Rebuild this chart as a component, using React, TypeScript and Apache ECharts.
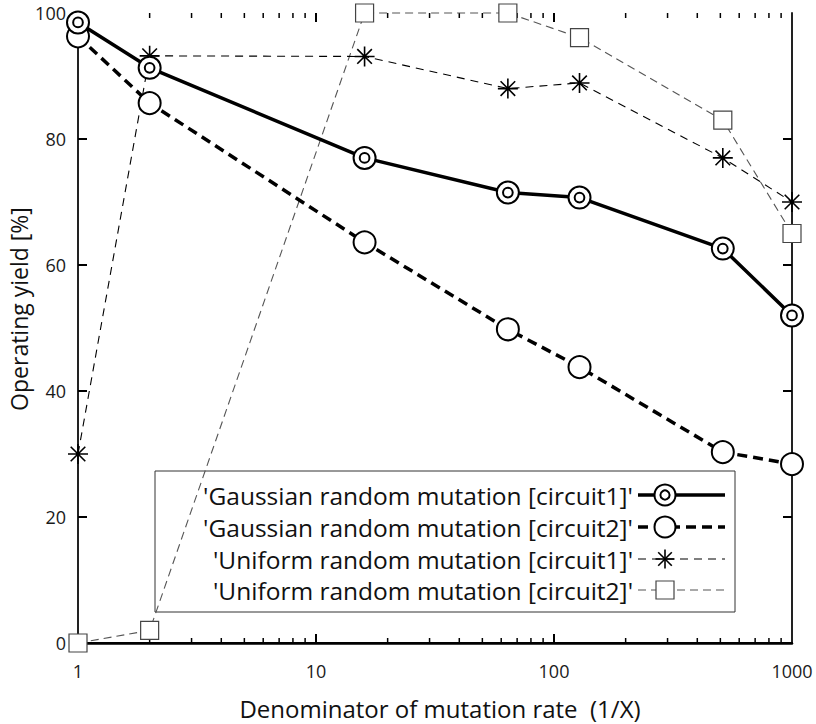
import React, { useEffect, useRef } from "react";
import * as echarts from "echarts";

// Denominator of the mutation rate (1/X) at which each yield was measured
const xValues = [1, 2, 16, 64, 128, 512, 1000];

// Operating yield [%]
const gaussianCircuit1 = [98.5, 91.3, 77.0, 71.5, 70.7, 62.6, 52.0];
const gaussianCircuit2 = [96.3, 85.7, 63.6, 49.8, 43.8, 30.3, 28.4];
const uniformCircuit1 = [30.0, 93.2, 93.1, 88.0, 88.9, 77.0, 70.0];
const uniformCircuit2 = [0.0, 2.0, 100.0, 100.0, 96.1, 83.0, 65.0];

const seriesNames = [
  "'Gaussian random mutation [circuit1]'",
  "'Gaussian random mutation [circuit2]'",
  "'Uniform random mutation [circuit1]'",
  "'Uniform random mutation [circuit2]'",
];

// Tick positions of the frame
const xMajorTicks = [10, 100];
const xMinorTicks = [2, 3, 4, 5, 6, 7, 8, 9, 20, 30, 40, 50, 60, 70, 80, 90, 200, 300, 400, 500, 600, 700, 800, 900];
const yTicks = [20, 40, 60, 80];

const xTitle = "Denominator of mutation rate  (1/X)";
const yTitle = "Operating yield [%]";

const X_MIN = 1;
const X_MAX = 1000;
const Y_MIN = 0;
const Y_MAX = 100;

const FONT = '"Open Sans", "Noto Sans", sans-serif';

const DOUBLE_CIRCLE =
  "path://M0,-10A10,10,0,1,1,0,10A10,10,0,1,1,0,-10ZM0,-4.4A4.4,4.4,0,1,1,0,4.4A4.4,4.4,0,1,1,0,-4.4Z";
const ASTERISK = "path://M-10,0L10,0M0,-10L0,10M-7.3,-7.3L7.3,7.3M-7.3,7.3L7.3,-7.3";

function pairs(ys: number[]) {
  return xValues.map((x, i) => [x, ys[i]]);
}

// Inward ticks on all four sides of the frame, placed through the axes' scales
function tickSeries() {
  const data = [
    ...xMajorTicks.map((v) => [v, Y_MIN, 0]),
    ...xMinorTicks.map((v) => [v, Y_MIN, 1]),
    ...yTicks.map((v) => [X_MIN, v, 2]),
  ];
  return {
    type: "custom",
    name: "frame ticks",
    silent: true,
    clip: false,
    z: 3,
    data,
    renderItem: (_params: any, api: any) => {
      const kind = api.value(2);
      if (kind === 2) {
        const s = { stroke: "#000", lineWidth: 2 };
        const v = api.value(1);
        const l = api.coord([X_MIN, v]);
        const r = api.coord([X_MAX, v]);
        const len = 9;
        return {
          type: "group",
          children: [
            { type: "line", shape: { x1: l[0], y1: l[1], x2: l[0] + len, y2: l[1] }, style: s },
            { type: "line", shape: { x1: r[0], y1: r[1], x2: r[0] - len, y2: r[1] }, style: s },
          ],
        };
      }
      const x = api.value(0);
      const b = api.coord([x, Y_MIN]);
      const t = api.coord([x, Y_MAX]);
      const major = kind === 0;
      const len = major ? 9 : 5;
      const s = { stroke: "#000", lineWidth: major ? 2 : 1.5 };
      return {
        type: "group",
        children: [
          { type: "line", shape: { x1: b[0], y1: b[1], x2: b[0], y2: b[1] - len }, style: s },
          { type: "line", shape: { x1: t[0], y1: t[1], x2: t[0], y2: t[1] + len }, style: s },
        ],
      };
    },
  };
}

function legendGraphic() {
  const left = 155;
  const top = 471;
  const width = 580;
  const height = 141;
  const rowY = [495, 527, 559, 590];
  const textRight = 633;
  const lineX1 = 638;
  const lineX2 = 725;
  const markX = 665;

  const children: any[] = [
    {
      type: "rect",
      shape: { x: left, y: top, width, height },
      style: { fill: "#fff", stroke: "#333", lineWidth: 1 },
    },
  ];

  const lineStyles = [
    { stroke: "#000", lineWidth: 3.5, lineDash: null },
    { stroke: "#000", lineWidth: 3.5, lineDash: [10, 6] },
    { stroke: "#000", lineWidth: 1.1, lineDash: [8, 6] },
    { stroke: "#555", lineWidth: 1.1, lineDash: [8, 5] },
  ];

  seriesNames.forEach((name, i) => {
    const y = rowY[i];
    children.push({
      type: "text",
      x: textRight,
      y,
      style: {
        text: name,
        font: `24.5px ${FONT}`,
        fill: "#111",
        align: "right",
        textAlign: "right",
        verticalAlign: "middle",
        textVerticalAlign: "middle",
      },
    });
    children.push({
      type: "line",
      shape: { x1: lineX1, y1: y, x2: lineX2, y2: y },
      style: lineStyles[i],
    });
    if (i === 0) {
      children.push({
        type: "circle",
        shape: { cx: markX, cy: y, r: 10.5 },
        style: { fill: "#fff", stroke: "#000", lineWidth: 2 },
      });
      children.push({
        type: "circle",
        shape: { cx: markX, cy: y, r: 4.6 },
        style: { fill: "#fff", stroke: "#000", lineWidth: 2 },
      });
    } else if (i === 1) {
      children.push({
        type: "circle",
        shape: { cx: markX, cy: y, r: 10.5 },
        style: { fill: "#fff", stroke: "#000", lineWidth: 2 },
      });
    } else if (i === 2) {
      const r = 9.5;
      const d = 6.8;
      [
        [-r, 0, r, 0],
        [0, -r, 0, r],
        [-d, -d, d, d],
        [-d, d, d, -d],
      ].forEach(([a, b, c, e]) => {
        children.push({
          type: "line",
          shape: { x1: markX + a, y1: y + b, x2: markX + c, y2: y + e },
          style: { stroke: "#000", lineWidth: 1.6 },
        });
      });
    } else {
      children.push({
        type: "rect",
        shape: { x: markX - 9, y: y - 9, width: 18, height: 18 },
        style: { fill: "#fff", stroke: "#444", lineWidth: 1.2 },
      });
    }
  });

  return { type: "group", z: 100, children };
}

export default function App() {
  const ref = useRef<HTMLDivElement>(null);

  useEffect(() => {
    if (!ref.current) return;
    const chart = echarts.init(ref.current, undefined, { renderer: "svg" });

    const axisLabel = { color: "#1a1a1a", fontFamily: FONT, fontSize: 18 };

    const option: any = {
      animation: false,
      backgroundColor: "#fff",
      grid: { left: 78, right: 24, top: 13, bottom: 81, containLabel: false },
      xAxis: [
        {
          type: "log",
          logBase: 10,
          min: X_MIN,
          max: X_MAX,
          position: "bottom",
          axisLine: { lineStyle: { color: "#000", width: 2.5 } },
          axisTick: { show: false },
          axisLabel: { ...axisLabel, margin: 19, formatter: (v: number) => String(v) },
          splitLine: { show: false },
        },
        {
          type: "log",
          logBase: 10,
          min: X_MIN,
          max: X_MAX,
          position: "top",
          axisLine: { lineStyle: { color: "#000", width: 2 } },
          axisTick: { show: false },
          axisLabel: { show: false },
          splitLine: { show: false },
        },
      ],
      yAxis: [
        {
          type: "value",
          min: Y_MIN,
          max: Y_MAX,
          interval: 20,
          position: "left",
          axisLine: { show: true, lineStyle: { color: "#222", width: 2 } },
          axisTick: { show: false },
          axisLabel: { ...axisLabel, margin: 12 },
          splitLine: { show: false },
        },
        {
          type: "value",
          min: Y_MIN,
          max: Y_MAX,
          interval: 20,
          position: "right",
          axisLine: { show: true, lineStyle: { color: "#222", width: 2 } },
          axisTick: { show: false },
          axisLabel: { show: false },
          splitLine: { show: false },
        },
      ],
      series: [
        tickSeries(),
        {
          type: "line",
          name: seriesNames[3],
          data: pairs(uniformCircuit2),
          clip: false,
          z: 4,
          symbol: "rect",
          symbolSize: 18,
          lineStyle: { color: "#555", width: 1.1, type: [8, 5] },
          itemStyle: { color: "#fff", borderColor: "#444", borderWidth: 1.2 },
          emphasis: { disabled: true },
        },
        {
          type: "line",
          name: seriesNames[2],
          data: pairs(uniformCircuit1),
          clip: false,
          z: 4,
          symbol: ASTERISK,
          symbolSize: 20,
          lineStyle: { color: "#000", width: 1.1, type: [8, 6] },
          itemStyle: { color: "#000", borderColor: "#000", borderWidth: 1.6 },
          emphasis: { disabled: true },
        },
        {
          type: "line",
          name: seriesNames[1],
          data: pairs(gaussianCircuit2),
          clip: false,
          z: 4,
          symbol: "circle",
          symbolSize: 22,
          lineStyle: { color: "#000", width: 3.5, type: [10, 6] },
          itemStyle: { color: "#fff", borderColor: "#000", borderWidth: 2 },
          emphasis: { disabled: true },
        },
        {
          type: "line",
          name: seriesNames[0],
          data: pairs(gaussianCircuit1),
          clip: false,
          z: 4,
          symbol: DOUBLE_CIRCLE,
          symbolSize: 22,
          lineStyle: { color: "#000", width: 3.5 },
          itemStyle: { color: "#fff", borderColor: "#000", borderWidth: 2 },
          emphasis: { disabled: true },
        },
      ],
      graphic: [
        {
          type: "text",
          x: 19,
          y: 309,
          rotation: Math.PI / 2,
          style: {
            text: yTitle,
            font: `23px ${FONT}`,
            fill: "#111",
            align: "center",
            textAlign: "center",
            verticalAlign: "middle",
            textVerticalAlign: "middle",
          },
        },
        {
          type: "text",
          x: 440,
          y: 708,
          style: {
            text: xTitle,
            font: `24px ${FONT}`,
            fill: "#111",
            align: "center",
            textAlign: "center",
            verticalAlign: "middle",
            textVerticalAlign: "middle",
          },
        },
        legendGraphic(),
      ],
    };

    chart.setOption(option);
    return () => chart.dispose();
  }, []);

  return (
    <div
      ref={ref}
      style={{ position: "fixed", left: 0, top: 0, width: 816, height: 724, background: "#fff" }}
    />
  );
}
